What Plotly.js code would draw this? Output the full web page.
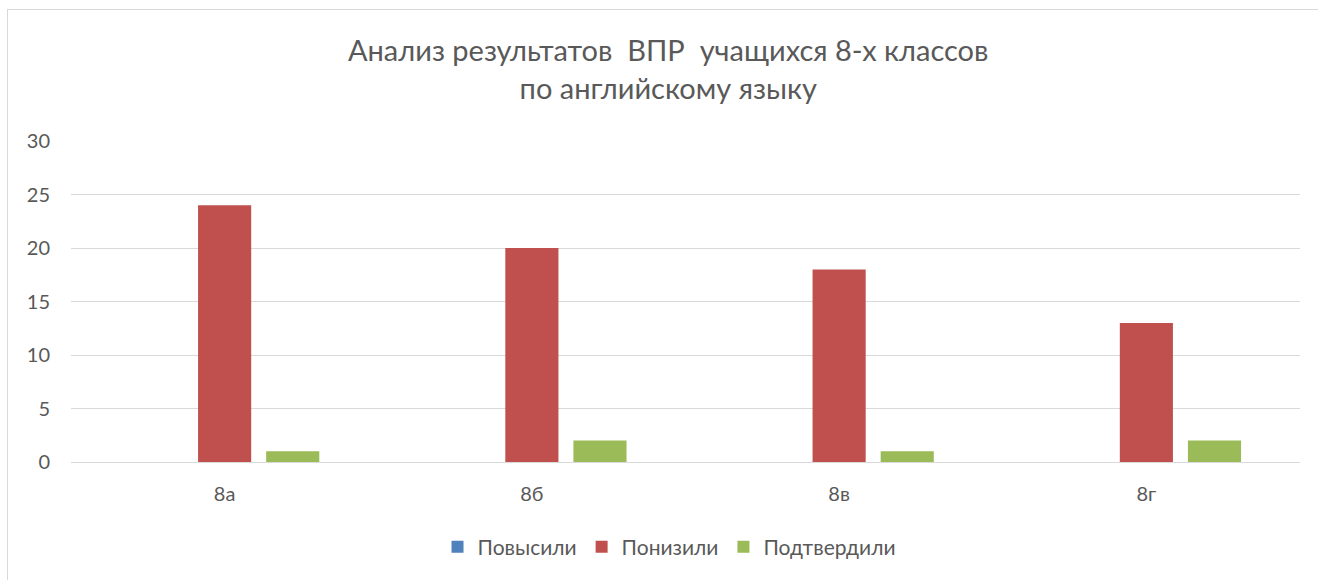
<!DOCTYPE html>
<html>
<head>
<meta charset="utf-8">
<script src="https://cdn.plot.ly/plotly-3.0.1.min.js"></script>
<style>
  html, body { margin: 0; padding: 0; background: #fff; overflow: hidden; }
  #chart { width: 1318px; height: 580px; position: absolute; left: 0; top: 0; }
  #frame { position: absolute; left: 7px; top: 9px; width: 1400px; height: 700px; border: 1px solid #d9d9d9; pointer-events: none; }
</style>
</head>
<body>
<div id="chart"></div>
<div id="frame"></div>
<script>
const categories = ["8а", "8б", "8в", "8г"];
const seriesNames = ["Повысили", "Понизили", "Подтвердили"];
const raised = [0, 0, 0, 0];
const lowered = [24, 20, 18, 13];
const confirmed = [1, 2, 1, 2];
const yTicks = [0, 5, 10, 15, 20, 25, 30];
const titleLine1 = "Анализ результатов\u00a0\u00a0ВПР\u00a0\u00a0учащихся 8-х классов";
const titleLine2 = "по английскому языку";

const colors = ["#4f81bd", "#c0504d", "#9bbb59"];
const values = [raised, lowered, confirmed];

const traces = values.map((v, i) => ({
  type: "bar",
  name: seriesNames[i],
  x: categories,
  y: v,
  marker: { color: colors[i] },
  hoverinfo: "none"
}));

const font = "Lato, 'Open Sans', sans-serif";

const layout = {
  width: 1318,
  height: 580,
  paper_bgcolor: "rgba(0,0,0,0)",
  plot_bgcolor: "#ffffff",
  margin: { l: 71, r: 18, t: 141, b: 118 },
  barmode: "group",
  bargap: 0.335,
  bargroupgap: 0.22,
  font: { family: font, color: "#595959", size: 20 },
  title: {
    text: titleLine1 + "<br>" + titleLine2,
    font: { family: font, size: 29, color: "#595959" },
    xref: "container",
    x: 0.507,
    xanchor: "center",
    yref: "container",
    y: 0.895,
    yanchor: "top"
  },
  xaxis: {
    type: "category",
    showgrid: false,
    showline: true,
    linecolor: "#d9d9d9",
    linewidth: 1,
    ticks: "",
    ticklabelstandoff: 14,
    tickfont: { family: font, size: 20, color: "#595959" },
    fixedrange: true
  },
  yaxis: {
    range: [0, 30],
    tickvals: yTicks,
    ticktext: yTicks.map(String),
    showgrid: true,
    gridcolor: "#d9d9d9",
    gridwidth: 1,
    zeroline: true,
    zerolinecolor: "#d9d9d9",
    zerolinewidth: 1,
    showline: false,
    ticks: "",
    ticklabelstandoff: 20,
    tickfont: { family: font, size: 20, color: "#595959" },
    fixedrange: true
  },
  showlegend: true,
  legend: {
    orientation: "h",
    x: 0.487,
    xanchor: "center",
    y: -0.265,
    yanchor: "middle",
    font: { family: font, size: 21, color: "#595959" },
    itemwidth: 30,
    traceorder: "normal"
  }
};

Plotly.newPlot("chart", traces, layout, { displayModeBar: false, staticPlot: true });
</script>
</body>
</html>
